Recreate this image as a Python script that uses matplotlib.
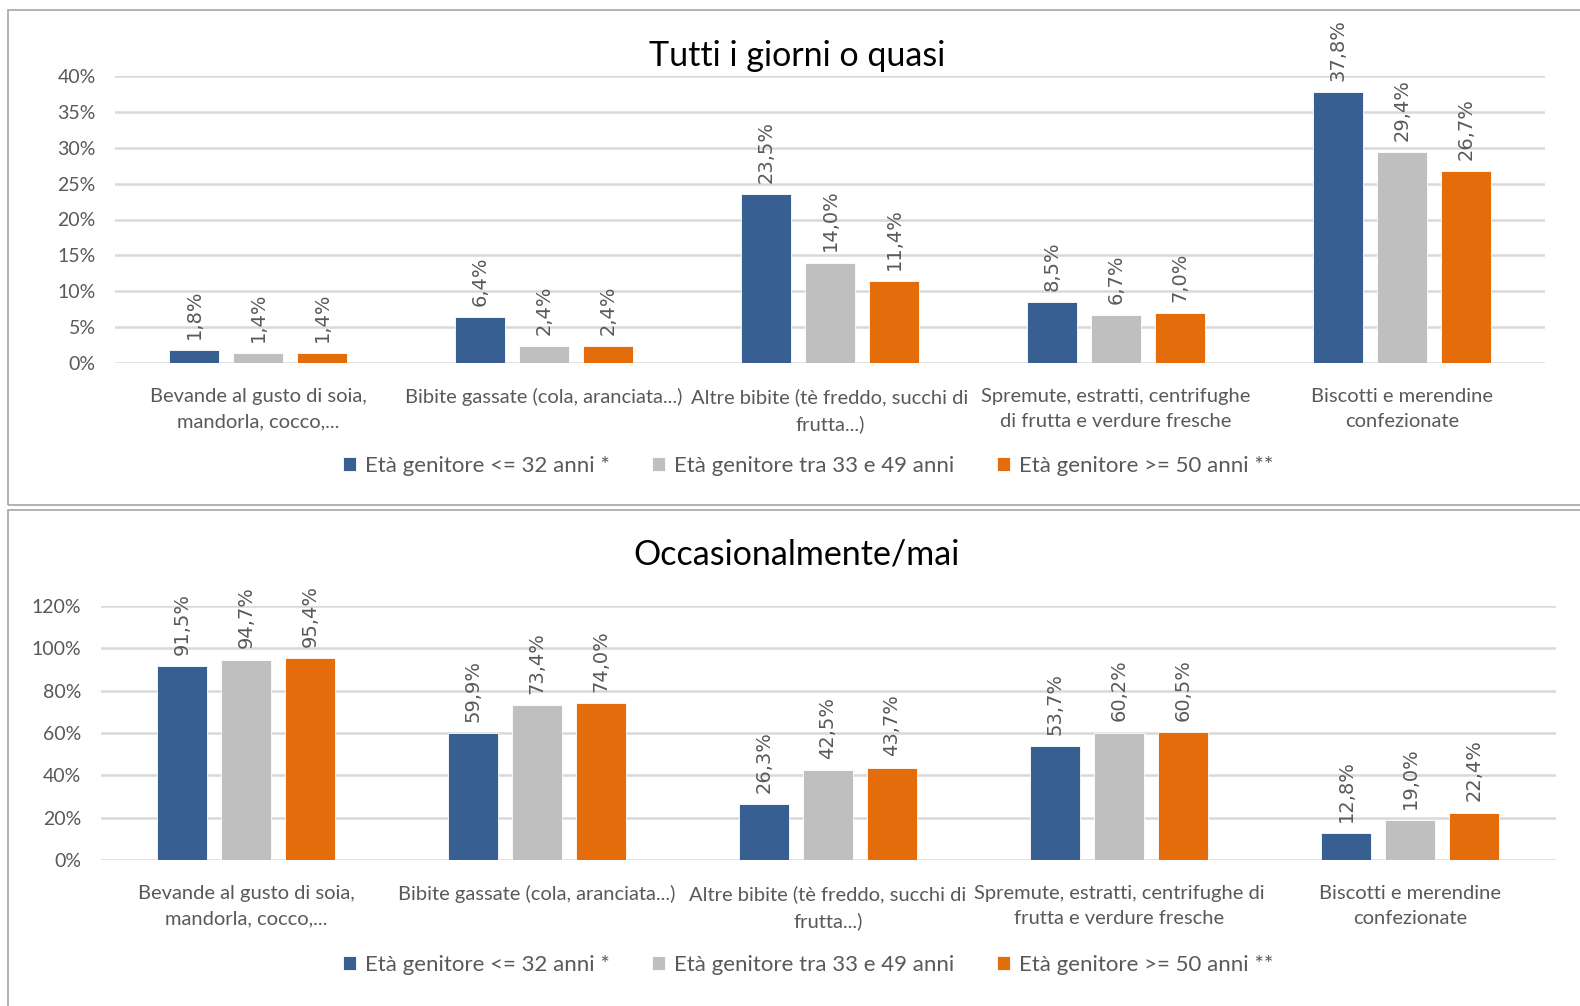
import matplotlib.pyplot as plt
import numpy as np
from matplotlib.patches import Rectangle

plt.rcParams['font.family'] = ['Lato', 'DejaVu Sans']

cats_top = ["Bevande al gusto di soia,\nmandorla, cocco,...",
            "Bibite gassate (cola, aranciata...)",
            "Altre bibite (tè freddo, succhi di\nfrutta...)",
            "Spremute, estratti, centrifughe\ndi frutta e verdure fresche",
            "Biscotti e merendine\nconfezionate"]
cats_bot = ["Bevande al gusto di soia,\nmandorla, cocco,...",
            "Bibite gassate (cola, aranciata...)",
            "Altre bibite (tè freddo, succhi di\nfrutta...)",
            "Spremute, estratti, centrifughe di\nfrutta e verdure fresche",
            "Biscotti e merendine\nconfezionate"]
series = ["Età genitore <= 32 anni *", "Età genitore tra 33 e 49 anni", "Età genitore >= 50 anni **"]
colors = ["#375F91", "#BFBFBF", "#E46C0A"]

daily_young = [1.8, 6.4, 23.5, 8.5, 37.8]
daily_mid = [1.4, 2.4, 14.0, 6.7, 29.4]
daily_old = [1.4, 2.4, 11.4, 7.0, 26.7]

occ_young = [91.5, 59.9, 26.3, 53.7, 12.8]
occ_mid = [94.7, 73.4, 42.5, 60.2, 19.0]
occ_old = [95.4, 74.0, 43.7, 60.5, 22.4]

W, H = 1580, 1006
fig = plt.figure(figsize=(W / 100, H / 100), dpi=100)
txt = "#595959"

# panel borders
fig.patches.append(Rectangle((8 / W, 1 - 505 / H), 1.0, (505 - 10) / H, transform=fig.transFigure,
                             fill=False, edgecolor="#A6A6A6", lw=1.2))
fig.patches.append(Rectangle((8 / W, -0.01), 1.0, (1006 - 510) / H + 0.01, transform=fig.transFigure,
                             fill=False, edgecolor="#A6A6A6", lw=1.2))


def panel(rect, cats, data, ymax, ystep, title, title_y, leg_y, off):
    ax = fig.add_axes(rect)
    x = np.arange(len(cats))
    for i, vals in enumerate(data):
        pos = x + (i - 1) * off
        ax.bar(pos, vals, width=0.175, color=colors[i], edgecolor="white", lw=0.6,
               label=series[i], zorder=3)
        for px, v in zip(pos, vals):
            ax.annotate(f"{v:.1f}%".replace(".", ","), (px, v), xytext=(0, 8),
                        textcoords="offset points", rotation=90, ha="center", va="bottom",
                        fontsize=14, color=txt, annotation_clip=False,
                        family=["DejaVu Sans"])
    ax.set_xlim(-0.5, len(cats) - 0.5)
    ax.set_ylim(0, ymax)
    ticks = np.arange(0, ymax + 0.01, ystep)
    ax.set_yticks(ticks)
    ax.set_yticklabels([f"{int(t)}%" for t in ticks], fontsize=14, color=txt)
    ax.set_xticks(x)
    ax.set_xticklabels(cats, fontsize=14.5, color=txt, linespacing=1.6)
    ax.tick_params(length=0)
    ax.tick_params(axis="x", pad=18)
    ax.tick_params(axis="y", pad=14)
    for s in ax.spines.values():
        s.set_visible(False)
    ax.grid(axis="y", color="#D9D9D9", lw=1.8, zorder=0)
    ax.set_axisbelow(True)
    fig.text(797 / W, 1 - title_y / H, title, ha="center", va="center", fontsize=24.5, color="black")
    ax.legend(loc="center", bbox_to_anchor=(808 / W, 1 - leg_y / H), bbox_transform=fig.transFigure,
              ncol=3, frameon=False, fontsize=16, labelcolor=txt, handlelength=0.6,
              handleheight=0.6, handletextpad=0.4, columnspacing=1.9)
    return ax


panel([115 / W, 1 - 363 / H, 1430 / W, (363 - 76) / H], cats_top,
      [daily_young, daily_mid, daily_old], 40, 5, "Tutti i giorni o quasi", 56, 466, 0.224)
panel([100.5 / W, 1 - 860 / H, 1455 / W, (860 - 606) / H], cats_bot,
      [occ_young, occ_mid, occ_old], 120, 20, "Occasionalmente/mai", 554, 965, 0.22)

fig.savefig("out.png", dpi=100)
